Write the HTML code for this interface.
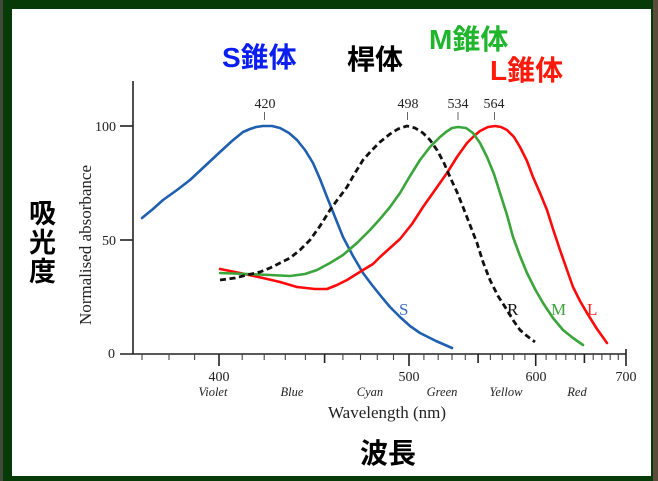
<!DOCTYPE html>
<html><head><meta charset="utf-8">
<style>
html,body{margin:0;padding:0;background:#063a06;}
svg{display:block;}
.ax{font-family:"Liberation Serif",serif;fill:#222;}
.jp{font-family:"Liberation Sans","Noto Sans CJK JP",sans-serif;font-weight:700;}
</style></head>
<body>
<svg width="658" height="481" viewBox="0 0 658 481" xmlns="http://www.w3.org/2000/svg">
<rect x="0" y="0" width="658" height="481" fill="#063a06"/>
<rect x="0" y="0" width="3" height="481" fill="#3f4a3a"/>
<rect x="653" y="0" width="5" height="481" fill="#5a4b3b"/>
<rect x="12" y="9" width="639" height="467" fill="#ffffff"/>

<!-- axes -->
<g stroke="#222" stroke-width="1.6" fill="none">
<line x1="133" y1="81" x2="133" y2="354"/>
<line x1="120" y1="354" x2="626" y2="354"/>
<line x1="120" y1="126" x2="133" y2="126"/>
<line x1="120" y1="240" x2="133" y2="240"/>
<line x1="219" y1="354" x2="219" y2="366"/>
<line x1="409" y1="354" x2="409" y2="366"/>
<line x1="535.7" y1="354" x2="535.7" y2="366"/>
<line x1="626" y1="349" x2="626" y2="366"/>
<line x1="324.6" y1="354" x2="324.6" y2="363"/>
<line x1="478.1" y1="354" x2="478.1" y2="363"/>
<line x1="584.4" y1="354" x2="584.4" y2="363"/>
</g>
<g stroke="#444" stroke-width="1.1" fill="none">
<line x1="142" y1="354" x2="142" y2="360"/>
<line x1="169" y1="354" x2="169" y2="360"/>
<line x1="194.6" y1="354" x2="194.6" y2="360"/>
<line x1="242.2" y1="354" x2="242.2" y2="360"/>
<line x1="264.2" y1="354" x2="264.2" y2="360"/>
<line x1="285.3" y1="354" x2="285.3" y2="360"/>
<line x1="305.4" y1="354" x2="305.4" y2="360"/>
<line x1="342.9" y1="354" x2="342.9" y2="360"/>
<line x1="360.5" y1="354" x2="360.5" y2="360"/>
<line x1="377.3" y1="354" x2="377.3" y2="360"/>
<line x1="393.5" y1="354" x2="393.5" y2="360"/>
<line x1="423.9" y1="354" x2="423.9" y2="360"/>
<line x1="438.2" y1="354" x2="438.2" y2="360"/>
<line x1="452" y1="354" x2="452" y2="360"/>
<line x1="465.3" y1="354" x2="465.3" y2="360"/>
<line x1="490.4" y1="354" x2="490.4" y2="360"/>
<line x1="502.3" y1="354" x2="502.3" y2="360"/>
<line x1="513.8" y1="354" x2="513.8" y2="360"/>
<line x1="524.9" y1="354" x2="524.9" y2="360"/>
<line x1="546.1" y1="354" x2="546.1" y2="360"/>
<line x1="556.1" y1="354" x2="556.1" y2="360"/>
<line x1="565.8" y1="354" x2="565.8" y2="360"/>
<line x1="575.3" y1="354" x2="575.3" y2="360"/>
<line x1="593.2" y1="354" x2="593.2" y2="360"/>
<line x1="601.9" y1="354" x2="601.9" y2="360"/>
<line x1="610.2" y1="354" x2="610.2" y2="360"/>
<line x1="618.3" y1="354" x2="618.3" y2="360"/>
</g>

<!-- peak ticks -->
<g stroke="#666" stroke-width="1">
<line x1="264.5" y1="112" x2="264.5" y2="120"/>
<line x1="407.5" y1="112" x2="407.5" y2="120"/>
<line x1="458" y1="112" x2="458" y2="120"/>
<line x1="494.5" y1="112" x2="494.5" y2="120"/>
</g>
<g class="ax" font-size="14" text-anchor="middle">
<text x="265" y="108">420</text>
<text x="408" y="108">498</text>
<text x="458" y="108">534</text>
<text x="494" y="108">564</text>
</g>

<!-- y tick labels -->
<g class="ax" font-size="14" text-anchor="end">
<text x="116" y="131">100</text>
<text x="116" y="245">50</text>
<text x="115" y="358">0</text>
</g>
<text class="ax" font-size="17" text-anchor="middle" transform="translate(91,245) rotate(-90)">Normalised absorbance</text>

<!-- x tick labels -->
<g class="ax" font-size="14" text-anchor="middle">
<text x="219" y="381">400</text>
<text x="409" y="381">500</text>
<text x="536" y="381">600</text>
<text x="626" y="381">700</text>
</g>
<g class="ax" font-size="12.5" font-style="italic" text-anchor="middle">
<text x="213" y="396">Violet</text>
<text x="292" y="396">Blue</text>
<text x="370" y="396">Cyan</text>
<text x="442" y="396">Green</text>
<text x="506" y="396">Yellow</text>
<text x="577" y="396">Red</text>
</g>
<text class="ax" font-size="17" x="387" y="418" text-anchor="middle">Wavelength (nm)</text>

<!-- curves -->
<g fill="none" stroke-width="2.6" stroke-linejoin="round" stroke-linecap="round">
<polyline stroke="#1f5fb0" points="142,218 153,209 163,200 177,190 190,180 205,166 220,152 232,141 243,132 250,129 256,127 263,126 272,126 280,128 289,133 297,140 305,150 313,163 320,179 327,197 335,217 343,237 353,256 363,273 372,285 380,295 390,307 400,317 410,326 420,333 436,341 452,348"/>
<polyline stroke="#ff0a0a" points="220,269 240,273 263,278 280,282 297,287 315,289 327,289 337,285 347,280 363,270 373,264 380,257 390,248 400,239 412,224 423,207 435,190 447,173 457,157 467,143 474,136 480,131 488,127 495,126 501,127 507,130 514,137 520,147 527,161 533,177 540,193 547,210 553,229 560,250 567,270 573,287 580,301 587,313 597,329 607,343"/>
<polyline stroke="#3aa53a" points="220,273 247,274 270,275 290,276 305,274 317,270 330,263 343,255 357,243 370,230 380,219 390,207 400,193 410,176 420,160 430,147 440,137 446,132 452,128 458,127 466,128 473,133 480,143 487,157 494,174 500,193 507,215 513,237 520,256 527,273 535,289 543,303 553,318 563,330 573,338 583,345"/>
<polyline stroke="#111" stroke-dasharray="6,3.6" stroke-width="2.8" stroke-linecap="butt" points="220,280 235,278 247,275 260,272 270,268 280,263 290,258 300,250 310,240 320,226 330,210 338,199 347,187 355,173 363,160 372,150 380,142 390,134 398,129 407,126 415,128 423,133 430,140 437,150 444,163 450,177 457,192 463,207 470,225 477,243 483,262 490,280 498,296 507,310 513,320 520,330 527,336 535,342"/>
</g>
<g class="ax" font-size="17">
<text x="399" y="315" fill="#3a6cc0">S</text>
<text x="507" y="315" fill="#111">R</text>
<text x="551" y="315" fill="#3aa53a">M</text>
<text x="587" y="315" fill="#ff2020">L</text>
</g>

<!-- Japanese labels -->
<g class="jp" font-size="28">
<text x="222" y="67" fill="#0a1ef2">S錐体</text>
<text x="347" y="69" fill="#000">桿体</text>
<text x="429" y="49" fill="#1fb52c">M錐体</text>
<text x="490" y="80" fill="#fe1a0a">L錐体</text>
<text x="360" y="463" fill="#000">波長</text>
</g>
<g class="jp" font-size="27" fill="#000">
<text x="29" y="223">吸</text>
<text x="29" y="252">光</text>
<text x="29" y="281">度</text>
</g>
</svg>
</body></html>
